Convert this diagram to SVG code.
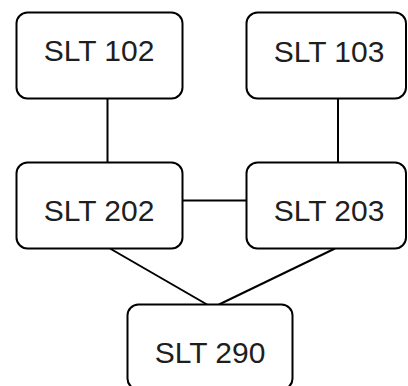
<svg xmlns="http://www.w3.org/2000/svg" width="408" height="386" viewBox="0 0 408 386">
  <style>
    .box { fill: #ffffff; stroke: #000000; stroke-width: 2; }
    .label { font-family: "Liberation Sans", Arial, sans-serif; font-size: 30px; fill: #1e1e1e; text-anchor: middle; }
    .edge { stroke: #000000; stroke-width: 2; fill: none; }
  </style>
  <rect width="408" height="386" fill="#ffffff"/>

  <g id="connectors">
    <line class="edge" x1="107.5" y1="98.5" x2="107.5" y2="162.5"/>
    <line class="edge" x1="338" y1="98.5" x2="338" y2="162.5"/>
    <line class="edge" x1="182.5" y1="200.5" x2="246.5" y2="200.5"/>
    <line class="edge" x1="110" y1="248.5" x2="207" y2="304.5"/>
    <line class="edge" x1="335" y1="248.5" x2="219" y2="304.5"/>
  </g>

  <g id="slt102">
    <rect class="box" x="16.5" y="12.5" width="166" height="86" rx="11"/>
    <text class="label" x="99" y="61">SLT 102</text>
  </g>
  <g id="slt103">
    <rect class="box" x="246.5" y="12.5" width="159.5" height="86" rx="11"/>
    <text class="label" x="329" y="61.5">SLT 103</text>
  </g>
  <g id="slt202">
    <rect class="box" x="16.5" y="162.5" width="166" height="86" rx="11"/>
    <text class="label" x="99" y="220.5">SLT 202</text>
  </g>
  <g id="slt203">
    <rect class="box" x="246.5" y="162.5" width="159.5" height="86" rx="11"/>
    <text class="label" x="329" y="220.5">SLT 203</text>
  </g>
  <g id="slt290">
    <rect class="box" x="127.5" y="304.5" width="165" height="85" rx="11"/>
    <text class="label" x="210" y="362.5">SLT 290</text>
  </g>
</svg>
